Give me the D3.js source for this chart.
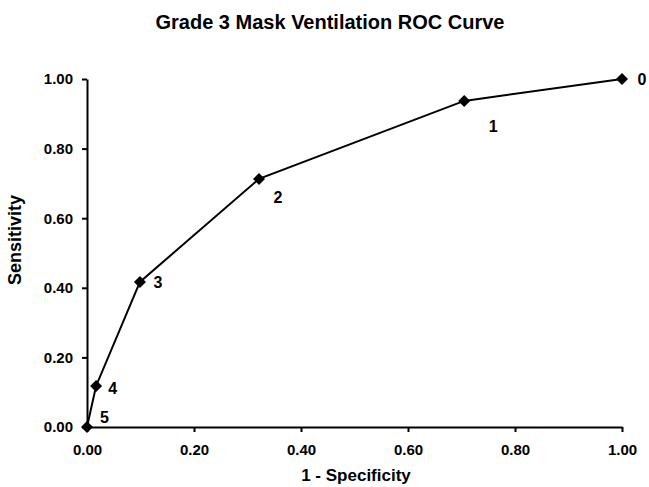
<!DOCTYPE html>
<html><head><meta charset="utf-8">
<script src="https://cdn.jsdelivr.net/npm/d3@7"></script>
<style>body{margin:0;background:#fff}text{font-family:"Liberation Sans",Arial,sans-serif;font-weight:bold;fill:#000}</style>
</head><body><svg id="c" width="649" height="487"></svg>
<script>
const fpr = [1.00, 0.705, 0.3215, 0.099, 0.017, 0.00];
const tpr = [1.00, 0.937, 0.713, 0.417, 0.118, 0.00];
const labels = ["0","1","2","3","4","5"];
const ticks = [0, 0.2, 0.4, 0.6, 0.8, 1.0];
const labelOffsets = [[20,0],[29,25],[19,18.5],[18,0],[16.5,2.5],[17.5,-9.5]];

const svg = d3.select("#c");
const x = d3.scaleLinear().domain([0,1]).range([87,622]);
const y = d3.scaleLinear().domain([0,1]).range([427,79]);

const xa = svg.append("g").attr("transform","translate(0,427)")
  .call(d3.axisBottom(x).tickValues(ticks).tickFormat(d3.format(".2f")).tickSize(5).tickSizeOuter(0));
const ya = svg.append("g").attr("transform","translate(87,0)")
  .call(d3.axisLeft(y).tickValues(ticks).tickFormat(d3.format(".2f")).tickSize(5).tickSizeOuter(0));
[xa,ya].forEach(a=>{a.selectAll("path,line").attr("stroke","#000").attr("stroke-width",2);
  a.selectAll("text").style("font-size","15px").style("font-weight","bold");});
xa.selectAll("text").attr("y",28).attr("dy",0);
ya.selectAll("text").attr("x",-14);

const pts = fpr.map((f,i)=>({x:f,y:tpr[i],l:labels[i]}));
svg.append("path").datum(pts).attr("fill","none").attr("stroke","#000").attr("stroke-width",2)
  .attr("d", d3.line().x(d=>x(d.x)).y(d=>y(d.y)));
svg.selectAll(".m").data(pts).join("path")
  .attr("transform",d=>`translate(${x(d.x)},${y(d.y)})`)
  .attr("d", "M0,-6L6,0L0,6L-6,0Z").attr("fill","#000");
svg.selectAll(".lb").data(pts).join("text")
  .attr("x",(d,i)=>x(d.x)+labelOffsets[i][0]).attr("y",(d,i)=>y(d.y)+labelOffsets[i][1])
  .attr("text-anchor","middle").attr("dy","0.36em").style("font-size","16px").text(d=>d.l);

svg.append("text").attr("x",330).attr("y",29).attr("text-anchor","middle").style("font-size","20px")
  .text("Grade 3 Mask Ventilation ROC Curve");
svg.append("text").attr("x",356).attr("y",481).attr("text-anchor","middle").style("font-size","17px")
  .text("1 - Specificity");
svg.append("text").attr("transform","translate(21,240) rotate(-90)").attr("text-anchor","middle").style("font-size","18px")
  .text("Sensitivity");
</script></body></html>
